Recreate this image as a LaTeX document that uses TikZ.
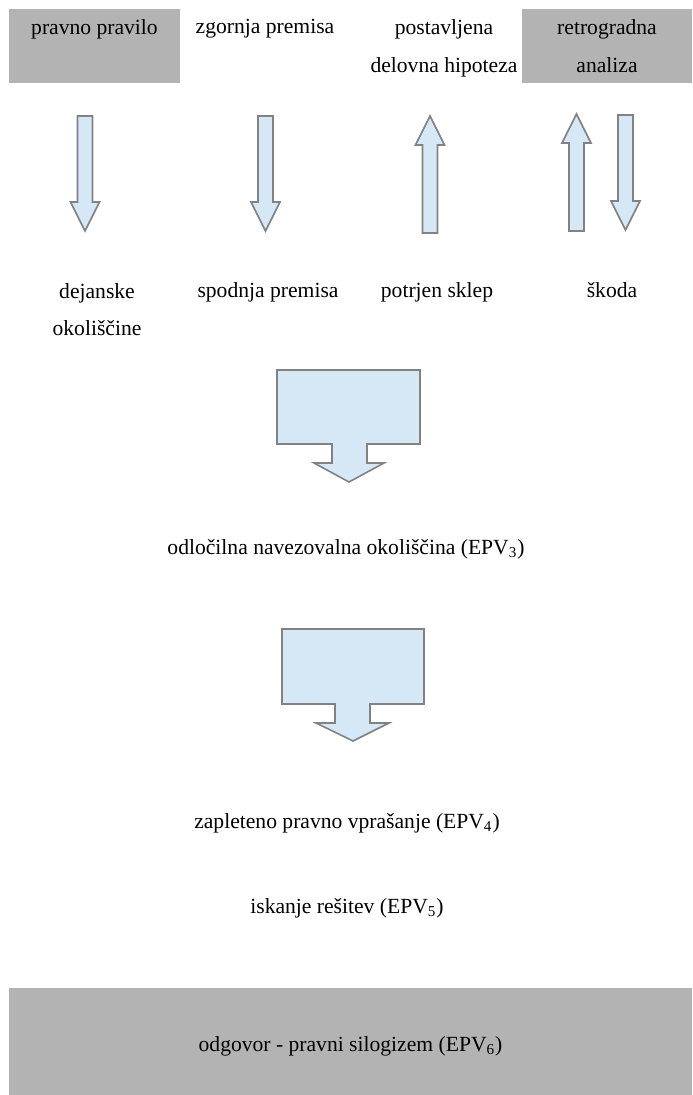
\documentclass[tikz,border=0pt]{standalone}
\usepackage{fontspec}
\setmainfont{Liberation Serif}
\usepackage{xcolor}
\usepackage{tikz}

\definecolor{arrowblue}{RGB}{214,232,246}
\definecolor{arrowline}{RGB}{130,130,130}
\definecolor{boxgrey}{RGB}{179,179,179}

% thin block arrows: x, top, tip / x, tip, bottom
\newcommand{\blockdown}[3]{\draw[blockarrow] (#1-7.5,#2) -- (#1+7.5,#2) -- (#1+7.5,#3-29) -- (#1+14.5,#3-29) -- (#1,#3) -- (#1-14.5,#3-29) -- (#1-7.5,#3-29) -- cycle;}
\newcommand{\blockup}[3]{\draw[blockarrow] (#1-7.5,#3) -- (#1+7.5,#3) -- (#1+7.5,#2+29) -- (#1+14.5,#2+29) -- (#1,#2) -- (#1-14.5,#2+29) -- (#1-7.5,#2+29) -- cycle;}

\begin{document}
\begin{tikzpicture}[x=0.5pt, y=-0.5pt]

        % Define styles
        \tikzstyle{label} = [align=center, inner sep=0pt, font=\fontsize{10.8}{18.5}\selectfont]
        \tikzstyle{greybox} = [rectangle, fill=boxgrey, align=center, inner sep=0pt, font=\fontsize{10.8}{19}\selectfont]
        \tikzstyle{blockarrow} = [draw=arrowline, fill=arrowblue, line width=0.8pt, line join=miter]

        \useasboundingbox (0,0) rectangle (692,1095);

        % Top row
        \node [greybox, minimum width=85.5pt, minimum height=37pt] (pravilo) at (94.5,46) {pravno pravilo\\ \mbox{}};
        \node [label] (zgornja) at (265,29) {zgornja premisa};
        \node [label, font=\fontsize{10.8}{19}\selectfont] (hipoteza) at (444,48) {postavljena\\delovna hipoteza};
        \node [greybox, minimum width=85pt, minimum height=37pt] (retrograd) at (607,46) {retrogradna\\analiza};

        % Thin arrows
        \blockdown{85}{116}{231}
        \blockdown{265.5}{116}{231}
        \blockup{430}{116}{233}
        \blockup{576.5}{114}{231}
        \blockdown{625.5}{115}{230}

        % Second row
        \node [label] (dejanske) at (97,310) {dejanske\\okoliščine};
        \node [label] (spodnja) at (268,292) {spodnja premisa};
        \node [label] (sklep) at (437,292) {potrjen sklep};
        \node [label] (skoda) at (612,290) {škoda};

        % Big arrows
        \draw [blockarrow] (277,370) -- (420,370) -- (420,444) -- (367,444) -- (367,463) -- (384,463) -- (349,482)
              -- (314,463) -- (332,463) -- (332,444) -- (277,444) -- cycle;
        \draw [blockarrow] (282,629) -- (424,629) -- (424,704) -- (370,704) -- (370,723) -- (389,723) -- (353,741)
              -- (316,723) -- (335,723) -- (335,704) -- (282,704) -- cycle;

        % Lower column
        \node [label] (navezovalna) at (346,549) {odločilna navezovalna okoliščina (EPV\textsubscript{3})};
        \node [label] (vprasanje) at (347,823) {zapleteno pravno vprašanje (EPV\textsubscript{4})};
        \node [label] (resitev) at (347,908) {iskanje rešitev (EPV\textsubscript{5})};
        \node [greybox, minimum width=341.5pt, minimum height=53.5pt, text height=12pt, text depth=2pt] (odgovor) at (350.5,1041.5) {odgovor - pravni silogizem (EPV\textsubscript{6})};

    \end{tikzpicture}
\end{document}
